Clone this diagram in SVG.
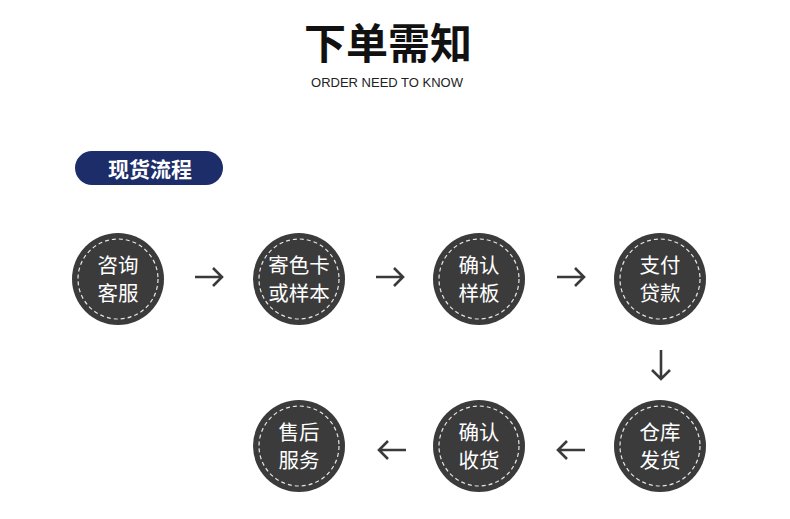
<svg xmlns="http://www.w3.org/2000/svg" width="790" height="519" viewBox="0 0 790 519">
<defs>
<style>
.disc{fill:#3b3b3b;}
.ring{fill:none;stroke:#e6e6e6;stroke-width:1.2;stroke-dasharray:4 3;}
.lbl{fill:#ffffff;font-family:"Noto Sans CJK SC","Noto Sans",sans-serif;font-size:20.5px;text-anchor:middle;}
.arr{fill:none;stroke:#3a3a3a;stroke-width:2.6;stroke-linecap:butt;stroke-linejoin:miter;}
</style>
</defs>
<rect width="790" height="519" fill="#ffffff"/>
<g id="title">
<text x="388" y="40" font-family="'Noto Sans CJK SC',sans-serif" font-size="42" font-weight="bold" fill="#111111" text-anchor="middle" dominant-baseline="central">下单需知</text>
<text x="387" y="82" font-family="'Liberation Sans',Arial,sans-serif" font-size="13" fill="#222222" text-anchor="middle" dominant-baseline="central">ORDER NEED TO KNOW</text>
</g>
<g id="section-tag">
<rect x="75" y="151" width="148" height="34" rx="17" fill="#1c2d6a"/>
<text x="150" y="168" font-family="'Noto Sans CJK SC',sans-serif" font-size="21" font-weight="bold" fill="#ffffff" text-anchor="middle" dominant-baseline="central">现货流程</text>
</g>
<g id="n1"><circle class="disc" cx="118" cy="279" r="46"/><circle class="ring" cx="118" cy="279" r="40"/><text class="lbl" x="118" y="273"><tspan x="118">咨询</tspan><tspan x="118" dy="28">客服</tspan></text></g>
<g id="n2"><circle class="disc" cx="299" cy="279" r="46"/><circle class="ring" cx="299" cy="279" r="40"/><text class="lbl" x="299" y="273"><tspan x="299">寄色卡</tspan><tspan x="299" dy="28">或样本</tspan></text></g>
<g id="n3"><circle class="disc" cx="479" cy="279" r="46"/><circle class="ring" cx="479" cy="279" r="40"/><text class="lbl" x="479" y="273"><tspan x="479">确认</tspan><tspan x="479" dy="28">样板</tspan></text></g>
<g id="n4"><circle class="disc" cx="660" cy="279" r="46"/><circle class="ring" cx="660" cy="279" r="40"/><text class="lbl" x="660" y="273"><tspan x="660">支付</tspan><tspan x="660" dy="28">贷款</tspan></text></g>
<g id="n5"><circle class="disc" cx="660" cy="446" r="46"/><circle class="ring" cx="660" cy="446" r="40"/><text class="lbl" x="660" y="440"><tspan x="660">仓库</tspan><tspan x="660" dy="28">发货</tspan></text></g>
<g id="n6"><circle class="disc" cx="479" cy="446" r="46"/><circle class="ring" cx="479" cy="446" r="40"/><text class="lbl" x="479" y="440"><tspan x="479">确认</tspan><tspan x="479" dy="28">收货</tspan></text></g>
<g id="n7"><circle class="disc" cx="299" cy="446" r="46"/><circle class="ring" cx="299" cy="446" r="40"/><text class="lbl" x="299" y="440"><tspan x="299">售后</tspan><tspan x="299" dy="28">服务</tspan></text></g>
<g id="connectors">
<path class="arr" d="M195 277 H222 M213 268 L222 277 L213 286"/>
<path class="arr" d="M376 277 H403 M394 268 L403 277 L394 286"/>
<path class="arr" d="M557 277 H584 M575 268 L584 277 L575 286"/>
<path class="arr" d="M661 350 V379 M652 370 L661 379 L670 370"/>
<path class="arr" d="M585 450 H558 M567 441 L558 450 L567 459"/>
<path class="arr" d="M406 450 H379 M388 441 L379 450 L388 459"/>
</g>
</svg>
